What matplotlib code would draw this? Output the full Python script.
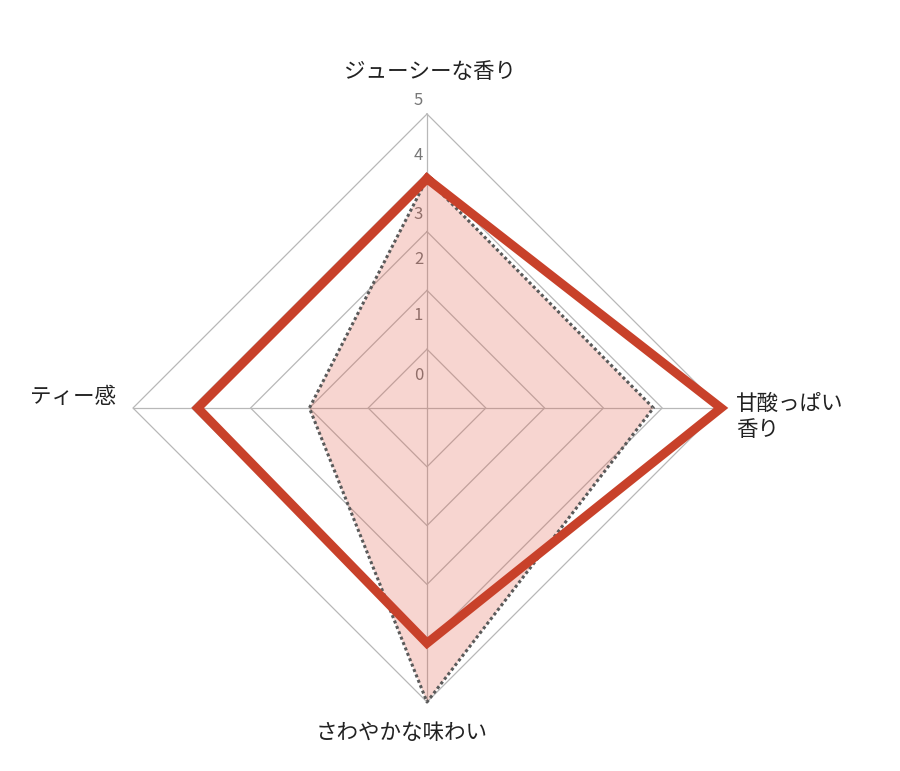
import numpy as np
import matplotlib as mpl
mpl.use('Agg')
import matplotlib.pyplot as plt

plt.rcParams['font.family'] = ['Noto Sans CJK JP', 'DejaVu Sans']

# categories clockwise from the top
categories = ['ジューシーな香り', '甘酸っぱい\n香り', 'さわやかな味わい', 'ティー感']
line_values = [3.9, 5.0, 4.0, 3.9]   # thick red outline
fill_values = [3.9, 3.85, 5.0, 2.0]  # pink filled area, dotted edge
rings = [1, 2, 3, 4, 5]
tick_labels = ['0', '1', '2', '3', '4', '5']
tick_pos = [0.56, 1.58, 2.52, 3.29, 4.29, 5.23]

PX = 58.8          # pixels per unit
CX, CY = 427, 408  # centre in pixels from top left
W, H = 900, 771


def toxy(vals):
    th = np.arange(len(vals))*2*np.pi/len(vals)
    v = np.asarray(vals, dtype=float)
    x = v*np.sin(th)
    y = v*np.cos(th)
    return np.append(x, x[0]), np.append(y, y[0])


def main():
    fig = plt.figure(figsize=(W/100, H/100), dpi=100)
    ax = fig.add_axes([0, 0, 1, 1])
    ax.set_xlim(-CX/PX, (W-CX)/PX)
    ax.set_ylim(-(H-CY)/PX, CY/PX)
    ax.set_axis_off()

    n = len(categories)
    # grid rings and spokes
    for r in rings:
        x, y = toxy([r]*n)
        ax.plot(x, y, color='#b8b8b8', lw=0.9, zorder=1)
    ox, oy = toxy([rings[-1]]*n)
    for i in range(n):
        ax.plot([0, ox[i]], [0, oy[i]], color='#b8b8b8', lw=0.9, zorder=1)

    # radial tick labels (under the fill)
    for lab, p in zip(tick_labels, tick_pos):
        ax.text(-8.5/PX, p, lab, ha='center', va='center', fontsize=12,
                color='#777777', zorder=2)

    # filled series
    fx, fy = toxy(fill_values)
    ax.fill(fx, fy, facecolor='#e05a46', alpha=0.25, lw=0, zorder=3)
    ax.plot(fx, fy, color='#5a5a5a', lw=2.2, linestyle=(0, (1.0, 0.9)),
            zorder=4)

    # outline series
    lx, ly = toxy(line_values)
    ax.plot(lx, ly, color='#c8412a', lw=6.5, solid_joinstyle='miter',
            zorder=5)

    # category labels
    offs = [(3, 42, 'center'), (15, -9, 'left'), (-25, -31, 'center'),
            (-17, 11, 'right')]
    for i, lab in enumerate(categories):
        dx, dy, ha = offs[i]
        ax.annotate(lab, (ox[i], oy[i]), xytext=(dx, dy),
                    textcoords='offset pixels', ha=ha, va='center',
                    fontsize=15.5, color='#222222', linespacing=1.25)

    fig.savefig('out.png', dpi=100)
    plt.close()
    return


if __name__ == "__main__":
    main()
